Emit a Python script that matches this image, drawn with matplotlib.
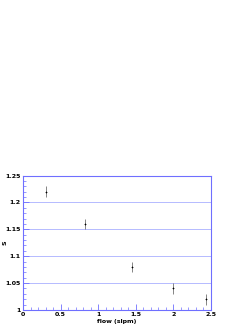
import matplotlib
matplotlib.use("Agg")
import matplotlib.pyplot as plt
from matplotlib.ticker import MultipleLocator

flow = [0.31, 0.83, 1.45, 1.99, 2.43]
s_val = [1.22, 1.16, 1.08, 1.04, 1.02]
s_err = [0.01, 0.01, 0.01, 0.01, 0.01]
x_ticks = [0, 0.5, 1, 1.5, 2, 2.5]
x_labels = ["0", "0.5", "1", "1.5", "2", "2.5"]
y_ticks = [1, 1.05, 1.1, 1.15, 1.2, 1.25]
y_labels = ["1", "1.05", "1.1", "1.15", "1.2", "1.25"]

axis_col = "#6f6fff"
grid_col = "#aab0ff"

fig = plt.figure(figsize=(2.53, 3.27), dpi=100)
ax = fig.add_axes([23/253, 17/327, 188/253, 134.5/327])

ax.errorbar(flow, s_val, yerr=s_err, fmt="+", ms=1.8, mew=0.5, color="black",
            ecolor="#555555", elinewidth=0.5, capsize=0, zorder=3)

ax.set_xlim(0, 2.5)
ax.set_ylim(1, 1.25)
ax.set_xticks(x_ticks)
ax.set_xticklabels(x_labels)
ax.set_yticks(y_ticks)
ax.set_yticklabels(y_labels)
ax.xaxis.set_minor_locator(MultipleLocator(0.1))
ax.yaxis.set_minor_locator(MultipleLocator(0.01))

for sp in ax.spines.values():
    sp.set_color(axis_col)
    sp.set_linewidth(0.8)

ax.tick_params(which="both", direction="in", colors=axis_col, labelcolor="black",
               labelsize=4.5, pad=1.5, top=False, right=False)
ax.tick_params(which="major", length=4, width=0.6)
ax.tick_params(which="minor", length=2, width=0.5)
for lab in ax.get_xticklabels() + ax.get_yticklabels():
    lab.set_fontweight("bold")

ax.grid(axis="y", which="major", color=grid_col, linestyle="-", linewidth=0.6)

ax.set_xlabel("flow (slpm)", fontsize=4.5, fontweight="bold")
ax.xaxis.set_label_coords(0.5, -0.065)
ax.set_ylabel("S", fontsize=4.5, fontweight="bold", rotation=90)
ax.yaxis.set_label_coords(-0.08, 0.5)

fig.savefig("out.png", dpi=100)
